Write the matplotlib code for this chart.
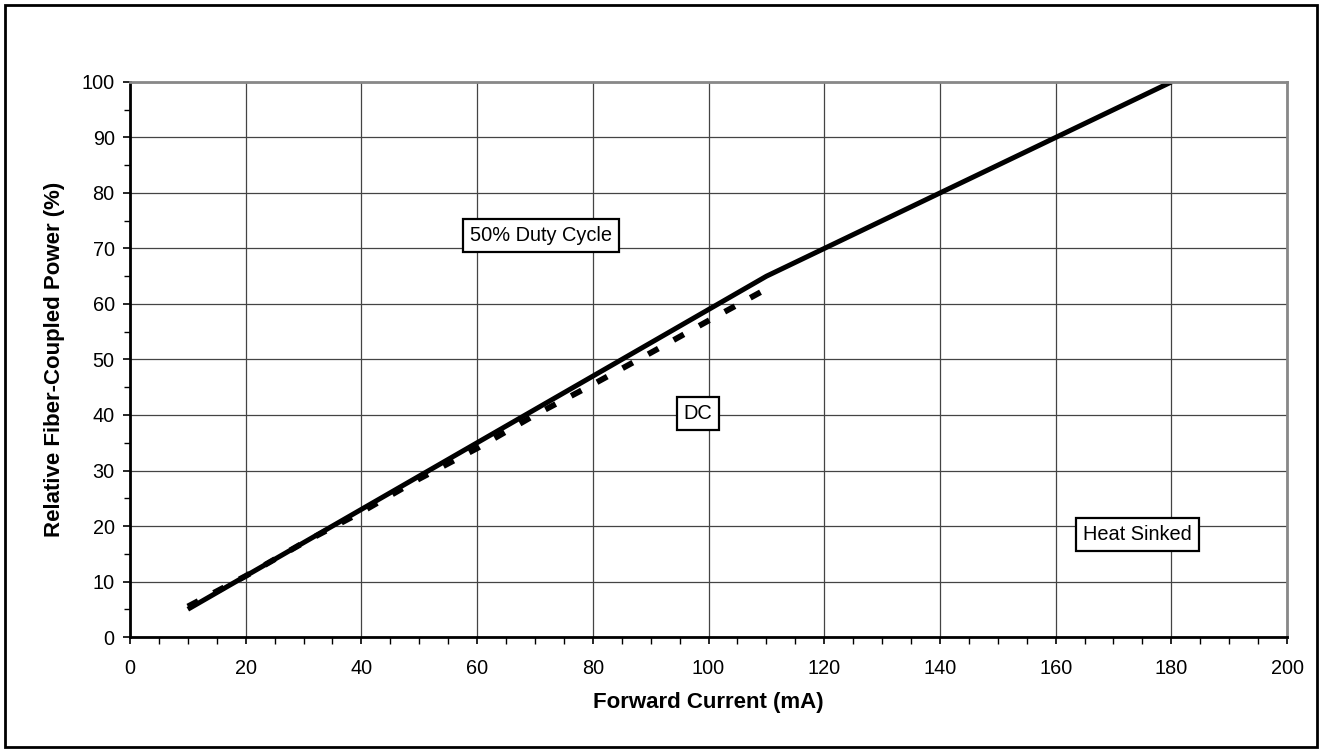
import matplotlib.pyplot as plt
from matplotlib.ticker import MultipleLocator
from matplotlib.patches import Rectangle

plt.rcParams['font.family'] = ['Liberation Sans', 'DejaVu Sans']

# 50% duty cycle (solid)
pulsed_current = [10, 20, 30, 40, 50, 60, 70, 80, 90, 100, 110, 120, 130, 140, 150, 160, 170, 180]
pulsed_power = [5, 11, 17, 23, 29, 35, 41, 47, 53, 59, 65, 70, 75, 80, 85, 90, 95, 100]

# DC (dashed)
dc_current = [10, 20, 30, 40, 50, 60, 70, 80, 90, 100, 110]
dc_power = [5.5, 11, 17, 22.5, 28.5, 34, 40, 45.5, 51.2, 57, 62.7]

labels = ["50% Duty Cycle", "DC", "Heat Sinked"]
label_x = [71, 98.2, 174.2]
label_y = [72.3, 40.2, 18.5]

fig = plt.figure(figsize=(13.21, 7.52), dpi=100)
ax = fig.add_axes([0.0984, 0.1529, 0.8759, 0.7381])

ax.plot(dc_current, dc_power, color='black', lw=4.2, linestyle=(0, (2.0, 3.0)),
        solid_capstyle='butt', dash_capstyle='butt')
ax.plot(pulsed_current, pulsed_power, color='black', lw=3.6, solid_capstyle='butt')

ax.set_xlim(0, 200)
ax.set_ylim(0, 100)
ax.xaxis.set_major_locator(MultipleLocator(20))
ax.xaxis.set_minor_locator(MultipleLocator(5))
ax.yaxis.set_major_locator(MultipleLocator(10))
ax.yaxis.set_minor_locator(MultipleLocator(5))
ax.grid(True, which='major', color='#444444', lw=0.9)
ax.set_axisbelow(True)

ax.tick_params(axis='both', which='both', direction='out', color='black', labelsize=14.3)
ax.tick_params(axis='x', which='major', length=5, width=1.2, pad=11)
ax.tick_params(axis='x', which='minor', length=5, width=1)
ax.tick_params(axis='y', which='major', length=5, width=1.2, pad=6)
ax.tick_params(axis='y', which='minor', length=4, width=1)

for side in ['left', 'bottom']:
    ax.spines[side].set_color('black')
    ax.spines[side].set_linewidth(2)
for side in ['top', 'right']:
    ax.spines[side].set_color('#888888')
    ax.spines[side].set_linewidth(2)

ax.set_xlabel('Forward Current (mA)', fontsize=16, fontweight='bold', labelpad=10)
ax.set_ylabel('Relative Fiber-Coupled Power (%)', fontsize=16, fontweight='bold', labelpad=12)

for t, x, y in zip(labels, label_x, label_y):
    ax.text(x, y, t, fontsize=14.4, ha='center', va='center',
            bbox=dict(boxstyle='square,pad=0.35', fc='white', ec='black', lw=1.6))

fig.patches.append(Rectangle((0.004, 0.006), 0.993, 0.988, transform=fig.transFigure,
                             fill=False, ec='black', lw=2))

fig.savefig('out.png', dpi=100)
